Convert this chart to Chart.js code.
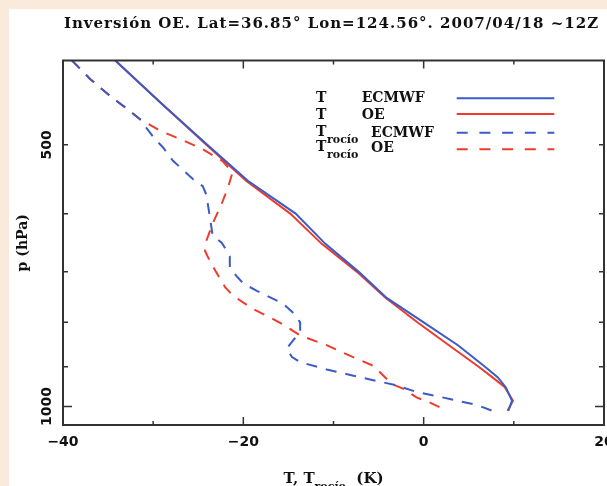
<!DOCTYPE html>
<html>
<head>
<meta charset="utf-8">
<script src="https://cdn.jsdelivr.net/npm/chart.js@4.4.0/dist/chart.umd.min.js"></script>
<style>
  html, body { margin: 0; padding: 0; background: #f9eadc; overflow: hidden; width: 607px; height: 486px; }
  #wrap { position: absolute; left: 9px; top: 9px; width: 644px; height: 490px; background: #fff; }
</style>
</head>
<body>
<div id="wrap"><canvas id="sondeo" width="644" height="490"></canvas></div>
<script>
// temperatura (°C) frente a presión (hPa)
const pTemp  = [400, 450, 500, 550, 600, 650, 700, 750, 800, 850, 900, 925, 950, 985, 1011];
const tEcmwf = [-34.2, -28.9, -24.0, -19.5, -14.2, -10.9, -7.2, -4.1, 0.0, 3.8, 6.8, 8.2, 9.1, 9.8, 9.4];
const tOe    = [-34.2, -28.9, -24.1, -19.7, -14.8, -11.3, -7.4, -4.2, -0.7, 2.8, 6.1, 7.6, 9.0, 9.9, 9.3];

const pDewEcmwf = [400, 420, 441, 457, 467, 492.5, 503.6, 521.6, 547.5, 558, 571, 606.5, 636, 648, 662, 671.5,
                   694, 722, 736, 761.5, 778, 800, 821.5, 835, 858, 877, 889, 906.5, 921.5, 945.5, 962, 980, 996, 1012];
const tdEcmwf   = [-39.0, -37.0, -34.6, -32.6, -31.5, -29.8, -28.9, -27.8, -25.6, -24.5, -24.1, -23.7, -23.4, -22.4, -21.85, -21.5,
                   -21.5, -20.0, -18.5, -15.6, -14.6, -13.7, -13.7, -14.3, -15.2, -14.6, -13.7, -10.75, -7.8, -3.0, -0.8, 2.9, 5.9, 7.7];

const pDewOe = [400, 420, 441, 457, 467, 482, 492.5, 506, 522, 538, 560, 584.5, 616, 644.5, 662, 674, 698, 729.5, 745.5,
                771.5, 792, 807, 828.5, 850.5, 874, 897.5, 913, 942.5, 953.5, 976.5, 989.5, 1008];
const tdOe   = [-39.0, -37.0, -34.6, -32.6, -31.5, -29.2, -27.0, -24.5, -22.3, -21.2, -21.7, -22.4, -23.4, -24.1, -24.25, -23.9, -23.1, -22.0, -21.15,
                -19.0, -16.8, -15.4, -13.7, -10.7, -8.2, -5.6, -4.85, -3.5, -2.3, -0.74, 0.7, 2.3];

const xTicks = [-40, -20, 0, 20];
const xMinor = [-30, -10, 10];
const yLabels = [500, 1000];
const yMinor = [500, 600, 700, 800, 900];

const BLUE = '#3a5bc8';
const RED = '#ee3b2b';

function pts(ps, ts) {
    return ps.map((p, i) => ({ x: ts[i], y: p }));
}

const series = [
    { label: 'T ECMWF', data: pts(pTemp, tEcmwf), borderColor: BLUE, dash: [] },
    { label: 'T OE', data: pts(pTemp, tOe), borderColor: RED, dash: [] },
    { label: 'Trocío ECMWF', data: pts(pDewEcmwf, tdEcmwf), borderColor: BLUE, dash: [11, 9] },
    { label: 'Trocío OE', data: pts(pDewOe, tdOe), borderColor: RED, dash: [11, 9] }
];

const serif = '"DejaVu Serif"';
const sans = '"DejaVu Sans"';

// marco, marcas, etiquetas y leyenda con subíndices
const decor = {
    id: 'decor',
    afterDraw(chart) {
        const { ctx, chartArea: a, scales: { x, y } } = chart;
        ctx.save();
        ctx.strokeStyle = '#333';
        ctx.lineWidth = 2;
        ctx.strokeRect(a.left, a.top, a.right - a.left, a.bottom - a.top);

        ctx.lineWidth = 1.5;
        ctx.beginPath();
        const tickX = (v, len) => {
            const px = x.getPixelForValue(v);
            ctx.moveTo(px, a.bottom); ctx.lineTo(px, a.bottom - len);
            ctx.moveTo(px, a.top); ctx.lineTo(px, a.top + len);
        };
        const tickY = (v, len) => {
            const py = y.getPixelForValue(v);
            ctx.moveTo(a.left, py); ctx.lineTo(a.left + len, py);
            ctx.moveTo(a.right, py); ctx.lineTo(a.right - len, py);
        };
        xTicks.forEach(v => tickX(v, 8));
        xMinor.forEach(v => tickX(v, 4));
        yMinor.forEach(v => tickY(v, 5));
        tickY(1000, 9);
        ctx.stroke();

        ctx.fillStyle = '#111';
        ctx.font = 'bold 14px ' + sans;
        ctx.textAlign = 'center';
        ctx.textBaseline = 'middle';
        yLabels.forEach(v => {
            ctx.save();
            ctx.translate(a.left - 16, y.getPixelForValue(v));
            ctx.rotate(-Math.PI / 2);
            ctx.fillText(String(v), 0, 0);
            ctx.restore();
        });

        // título
        const cx = (a.left + a.right) / 2;
        ctx.font = 'bold 15px ' + serif;
        ctx.textBaseline = 'alphabetic';
        ctx.letterSpacing = '1px';
        ctx.fillText('Inversión OE. Lat=36.85° Lon=124.56°. 2007/04/18 ~12Z', cx - 2, 19);
        ctx.letterSpacing = '0px';

        // título del eje x
        ctx.textAlign = 'left';
        const big = 'bold 14px ' + serif, small = 'bold 11px ' + serif;
        const axisBig = 'bold 15px ' + serif;
        ctx.font = axisBig; const w1 = ctx.measureText('T, T').width; const w3 = ctx.measureText('  (K)').width;
        ctx.font = small; const w2 = ctx.measureText('rocío').width;
        let tx = cx - (w1 + w2 + w3) / 2;
        const by = 474;
        ctx.font = axisBig; ctx.fillText('T, T', tx, by); tx += w1;
        ctx.font = small; ctx.fillText('rocío', tx, by + 7); tx += w2;
        ctx.font = axisBig; ctx.fillText('  (K)', tx, by);

        // leyenda
        const rows = [
            { sub: false, name: 'ECMWF', ty: 93, ly: 89.3, c: BLUE, dash: [] },
            { sub: false, name: 'OE', ty: 110, ly: 105, c: RED, dash: [] },
            { sub: true, name: 'ECMWF', ty: 127, ly: 123.7, c: BLUE, dash: [11, 11.7] },
            { sub: true, name: 'OE', ty: 142, ly: 140.3, c: RED, dash: [11, 11.7] }
        ];
        rows.forEach(r => {
            ctx.fillStyle = '#111';
            ctx.font = big;
            ctx.fillText('T', 307, r.ty);
            if (r.sub) {
                ctx.font = small;
                ctx.fillText('rocío', 318, r.ty + 7);
                ctx.font = big;
                ctx.fillText(r.name, 362, r.ty + 1);
            } else {
                ctx.fillText(r.name, 352.7, r.ty);
            }
            ctx.strokeStyle = r.c;
            ctx.lineWidth = 2;
            ctx.setLineDash(r.dash);
            ctx.beginPath();
            ctx.moveTo(447.7, r.ly);
            ctx.lineTo(545.3, r.ly);
            ctx.stroke();
            ctx.setLineDash([]);
        });
        ctx.restore();
    }
};

const config = {
    type: 'line',
    data: {
        datasets: series.map(s => ({
            label: s.label,
            data: s.data,
            borderColor: s.borderColor,
            borderDash: s.dash,
            borderWidth: 2,
            pointRadius: 0,
            tension: 0,
            fill: false
        }))
    },
    options: {
        responsive: false,
        animation: false,
        layout: { padding: { top: 51.5, right: 49, left: 0, bottom: 0 } },
        plugins: {
            legend: { display: false },
            title: { display: false },
            tooltip: { enabled: false }
        },
        scales: {
            x: {
                type: 'linear',
                min: -40,
                max: 20,
                grid: { display: false, drawTicks: false },
                border: { display: false },
                afterBuildTicks: s => { s.ticks = xTicks.map(v => ({ value: v })); },
                afterFit: s => { s.height = 74; },
                ticks: {
                    padding: 9,
                    color: '#111',
                    font: { family: 'DejaVu Sans', size: 14, weight: 'bold' },
                    maxRotation: 0,
                    callback: v => v < 0 ? '\u2212' + Math.abs(v) : String(v)
                }
            },
            y: {
                type: 'logarithmic',
                reverse: true,
                min: 400,
                max: 1050,
                grid: { display: false, drawTicks: false },
                border: { display: false },
                ticks: { display: false },
                afterFit: s => { s.width = 54; },
                title: {
                    display: true,
                    text: 'p (hPa)',
                    color: '#111',
                    font: { family: 'DejaVu Serif', size: 14, weight: 'bold' },
                    padding: { top: 6, bottom: 0 }
                }
            }
        }
    },
    plugins: [decor]
};

new Chart(document.getElementById('sondeo'), config);
</script>
</body>
</html>
